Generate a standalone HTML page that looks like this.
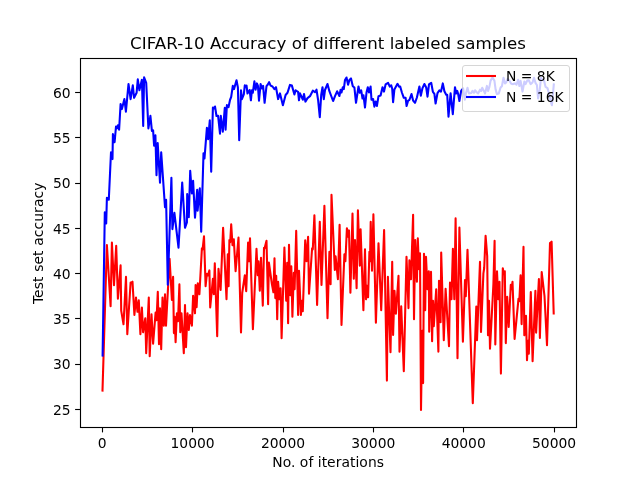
<!DOCTYPE html>
<html><head><meta charset="utf-8"><title>CIFAR-10 Accuracy of different labeled samples</title>
<style>html,body{margin:0;padding:0;background:#fff;width:640px;height:480px;overflow:hidden}</style></head>
<body>
<svg width="640" height="480" viewBox="0 0 640 480" style="display:block;position:absolute;left:0;top:0">
<rect width="640" height="480" fill="#fff"/>
<clipPath id="c"><rect x="80" y="57.6" width="496" height="369.6"/></clipPath>
<g clip-path="url(#c)">
<polyline points="102.5,390.6 106.9,245.1 110.6,306.2 111.9,242.6 114.0,285.3 116.2,245.9 117.9,298.7 120.6,265.4 121.2,310.6 123.5,324.3 126.0,276.9 127.3,334.3 130.6,282.6 131.5,282.8 132.5,281.7 134.4,314.9 136.0,297.6 137.5,311.8 138.8,300.4 140.4,334.3 141.9,307.6 143.1,332.3 145.3,318.2 146.2,353.1 148.8,297.6 149.7,356.2 151.5,314.4 153.1,343.7 155.6,312.6 156.5,320.3 157.8,291.9 159.0,344.3 160.0,308.2 161.2,349.1 162.5,297.6 163.8,325.6 165.0,294.4 166.0,325.6 169.6,258.8 171.9,299.9 173.1,276.9 173.9,333.1 174.7,316.7 175.6,342.1 176.9,313.2 178.0,321.3 179.4,284.4 180.3,332.3 181.5,313.2 183.8,353.1 185.0,305.1 186.0,347.3 187.5,313.2 188.8,329.9 190.0,315.1 191.9,325.6 193.1,295.7 195.0,313.3 195.6,285.1 196.6,307.3 197.8,283.2 199.4,294.3 201.9,248.2 202.6,249.3 204.0,236.3 205.6,286.2 206.9,273.8 208.0,275.3 209.4,270.4 210.2,307.4 212.9,278.8 213.8,294.3 214.8,263.2 217.2,336.2 218.5,268.8 220.6,289.9 223.1,227.9 226.5,299.1 227.8,254.4 228.6,286.2 229.4,240.1 230.2,242.3 231.2,224.4 232.5,245.3 233.8,239.2 235.6,271.2 238.5,237.6 241.0,332.4 242.2,293.0 244.8,275.4 246.2,291.2 248.1,242.6 249.1,261.3 250.0,238.2 252.9,329.3 256.5,248.8 257.7,275.3 258.5,261.3 259.8,290.6 261.0,257.9 262.8,305.6 264.0,247.9 264.6,248.3 266.5,240.7 268.1,304.3 268.9,262.6 271.9,284.0 273.4,292.3 274.5,258.2 275.3,298.1 276.2,275.7 277.2,319.3 278.1,281.9 279.5,299.3 280.6,288.2 281.6,338.3 284.4,247.6 286.2,300.6 287.2,262.7 288.1,323.3 289.0,244.7 290.3,295.3 291.3,266.3 292.4,316.8 293.8,272.7 294.6,289.3 296.2,230.9 298.1,314.9 299.0,270.7 300.9,314.9 301.8,300.7 302.8,311.2 305.2,240.4 306.5,261.3 308.1,236.9 309.0,293.7 312.1,248.2 312.8,249.3 314.4,215.4 317.1,304.9 319.8,221.7 321.5,284.9 324.4,205.7 327.5,318.1 329.4,251.9 330.6,284.3 331.5,194.7 334.8,269.9 335.6,256.3 337.9,279.1 339.6,224.7 341.5,324.9 344.4,254.4 345.4,261.3 346.9,228.2 347.8,236.8 349.0,230.4 350.4,292.8 352.5,213.6 353.8,278.7 355.0,240.1 356.6,288.3 357.9,210.4 359.8,265.6 360.6,229.2 363.4,310.3 365.0,249.2 366.0,299.3 367.0,285.7 368.1,297.3 369.4,251.7 370.0,261.3 370.7,221.9 372.0,270.6 373.4,214.4 375.9,322.8 378.5,243.2 381.2,310.3 384.1,230.1 386.9,380.6 387.9,276.9 390.5,352.3 392.2,261.7 393.1,334.9 394.5,290.7 395.9,313.7 398.5,275.7 399.5,351.8 401.2,306.3 403.8,371.2 406.5,256.7 408.5,308.1 409.4,260.4 411.0,279.3 413.1,214.7 414.0,319.3 415.2,240.1 416.9,281.8 417.8,238.4 419.0,269.3 420.0,253.2 421.0,409.9 422.2,330.7 423.1,383.1 424.0,253.8 425.2,310.3 426.0,256.9 427.5,289.3 428.8,271.3 429.2,331.8 431.0,271.9 432.1,341.2 433.0,300.7 433.8,326.3 436.2,289.4 438.4,351.6 439.0,280.7 440.6,322.3 441.2,252.6 443.8,340.3 445.6,288.7 449.0,346.2 450.0,282.6 451.5,299.3 452.9,248.8 454.3,299.3 455.6,218.4 457.5,358.3 459.4,227.6 462.9,341.8 465.0,280.1 465.8,296.2 467.5,249.7 472.8,403.3 476.3,306.5 477.0,340.3 480.0,261.9 481.0,331.9 483.4,273.4 484.2,268.0 485.6,235.9 487.2,256.2 488.0,335.3 489.0,300.7 490.0,348.8 492.6,300.0 493.4,284.0 494.6,240.7 495.3,344.5 497.0,271.4 498.3,299.3 499.5,281.9 500.9,373.6 502.8,268.2 503.8,274.3 504.8,271.3 505.8,343.1 507.2,296.7 508.7,327.0 510.8,284.7 511.6,289.3 512.5,281.9 514.6,338.9 518.5,298.7 519.3,301.3 520.6,275.2 521.6,324.1 523.5,246.9 524.3,335.3 526.0,315.7 527.0,360.3 528.0,340.7 528.8,353.7 530.8,292.1 532.6,361.3 535.4,290.7 536.1,332.6 538.9,279.1 539.9,337.9 541.7,272.0 544.5,296.0 547.0,345.3 550.0,243.0 551.6,241.7 553.7,313.5" fill="none" stroke="#ff0000" stroke-width="2.08" stroke-linejoin="round" stroke-linecap="square"/>
<polyline points="102.6,355.6 104.8,212.2 106.2,223.4 106.9,197.8 108.8,199.7 111.0,152.2 112.5,159.1 112.9,134.1 114.6,142.2 116.0,126.5 116.9,128.4 117.9,125.3 119.1,129.7 120.6,104.0 121.9,109.1 124.4,99.0 125.9,111.6 128.5,84.0 130.6,99.1 132.8,85.3 134.1,97.8 136.6,92.8 137.8,79.3 139.4,90.3 141.9,79.7 143.2,126.0 144.1,77.3 146.2,82.8 148.4,128.4 150.4,115.9 151.9,130.9 153.1,130.3 154.1,145.7 155.4,135.3 156.5,175.3 157.7,143.1 160.0,182.7 161.2,152.3 165.0,207.2 166.1,199.7 167.8,284.7 171.4,177.8 172.4,229.1 174.4,212.8 178.5,247.7 182.2,182.6 185.0,227.8 186.9,222.5 187.2,194.1 188.8,217.2 190.2,170.9 191.9,193.4 193.1,180.9 195.0,217.7 197.2,189.7 197.6,210.7 199.8,188.3 201.2,231.6 203.5,153.3 204.5,158.4 206.9,127.8 208.1,139.1 209.8,120.3 211.2,171.6 212.9,107.5 214.0,108.5 215.0,106.5 216.5,116.0 218.1,115.9 220.0,133.7 220.8,115.9 222.8,131.6 224.8,107.8 225.6,129.7 226.9,105.0 228.5,107.2 230.0,100.0 231.2,96.9 232.8,85.9 234.0,89.1 236.5,80.3 237.9,87.5 239.2,140.3 241.0,90.3 241.9,99.1 243.8,94.4 244.8,85.3 245.6,86.6 246.5,85.5 247.5,93.5 249.6,90.0 250.9,100.3 251.9,90.3 252.8,92.8 254.4,81.3 255.6,89.7 256.9,83.4 257.9,85.6 259.0,100.7 260.6,84.0 261.9,88.5 263.1,85.9 264.6,102.8 266.5,86.2 267.5,85.0 269.1,82.2 270.6,85.6 272.5,86.5 274.4,89.1 276.0,87.2 278.1,99.1 280.0,93.4 282.9,105.3 285.6,95.0 287.5,92.8 290.0,84.9 291.9,85.6 294.4,94.5 295.6,90.3 296.9,91.2 298.1,91.9 299.0,100.3 300.0,93.4 302.8,99.7 304.0,94.0 305.4,101.6 307.5,98.1 310.0,96.2 312.8,90.7 315.0,92.2 316.5,89.7 318.1,100.0 319.8,117.2 321.2,95.0 322.5,87.2 323.8,99.1 325.0,90.0 327.5,84.0 329.4,91.2 333.1,101.0 335.0,96.2 337.1,91.3 339.4,96.0 340.6,89.7 341.5,92.5 342.8,87.2 343.8,89.1 345.0,80.0 346.5,77.5 348.1,84.7 349.4,80.0 351.0,78.4 352.8,86.2 354.4,87.5 356.0,102.8 358.5,86.5 359.8,92.8 361.2,90.3 362.5,98.5 363.5,95.3 365.0,107.5 366.5,92.5 367.8,87.2 369.0,92.5 370.6,86.5 371.5,99.7 373.1,99.0 374.4,106.6 375.6,101.5 376.9,106.0 378.5,96.2 380.6,95.6 382.5,87.2 384.0,91.6 385.6,84.4 388.1,82.8 389.8,86.6 391.2,85.3 392.2,88.8 393.1,102.2 394.4,89.4 397.5,83.8 399.0,86.6 400.2,86.5 401.9,92.5 403.8,97.8 405.6,97.8 406.6,106.0 408.1,100.6 409.4,100.0 411.5,94.0 413.1,100.6 415.0,102.8 416.9,97.5 419.4,86.5 420.8,95.7 422.5,88.1 424.4,84.0 426.2,87.5 427.5,96.6 429.0,84.4 431.2,82.8 432.9,91.9 434.4,93.8 435.6,103.5 437.5,93.1 439.4,90.3 441.0,91.6 442.8,83.4 444.4,91.2 446.2,94.7 447.2,94.7 448.5,116.6 450.6,93.4 452.8,114.1 455.0,87.2 456.2,93.5 457.2,90.9 458.1,93.8 459.4,101.0 461.2,90.6 463.1,88.4 464.8,99.7 466.0,93.1 467.5,87.8 469.0,93.5 471.2,93.1 472.5,90.9 474.0,92.8 475.0,90.3 476.9,92.5 478.1,93.5 480.0,89.7 481.2,91.0 482.2,87.8 484.0,91.2 485.0,93.5 486.9,85.9 488.1,91.0 489.4,86.9 490.6,80.6 492.5,77.5 494.4,80.6 495.6,89.4 496.9,94.1 498.8,93.4 500.6,87.5 501.9,86.2 503.5,77.8 505.0,83.5 506.2,82.5 507.5,79.0 509.4,80.6 511.2,83.8 513.1,84.1 515.0,83.4 516.5,84.7 518.1,79.7 519.4,86.0 520.6,80.9 522.5,91.6 524.4,81.5 525.6,84.1 527.2,80.6 528.8,80.3 530.6,84.1 532.5,82.5 534.0,77.8 535.6,83.1 536.9,85.0 538.1,98.5 539.8,89.4 541.0,77.8 542.5,80.0 544.0,80.6 545.6,86.9 547.5,88.1 549.4,95.0 550.6,101.2 551.9,105.3 553.8,84.4" fill="none" stroke="#0000ff" stroke-width="2.08" stroke-linejoin="round" stroke-linecap="square"/>
</g>
<line x1="102.5" x2="102.5" y1="427.5" y2="432.4" stroke="#000" stroke-width="1.11"/>
<line x1="192.5" x2="192.5" y1="427.5" y2="432.4" stroke="#000" stroke-width="1.11"/>
<line x1="283.5" x2="283.5" y1="427.5" y2="432.4" stroke="#000" stroke-width="1.11"/>
<line x1="373.5" x2="373.5" y1="427.5" y2="432.4" stroke="#000" stroke-width="1.11"/>
<line x1="463.5" x2="463.5" y1="427.5" y2="432.4" stroke="#000" stroke-width="1.11"/>
<line x1="554.5" x2="554.5" y1="427.5" y2="432.4" stroke="#000" stroke-width="1.11"/>
<line x1="75.1" x2="80.5" y1="409.5" y2="409.5" stroke="#000" stroke-width="1.11"/>
<line x1="75.1" x2="80.5" y1="364.5" y2="364.5" stroke="#000" stroke-width="1.11"/>
<line x1="75.1" x2="80.5" y1="318.5" y2="318.5" stroke="#000" stroke-width="1.11"/>
<line x1="75.1" x2="80.5" y1="273.5" y2="273.5" stroke="#000" stroke-width="1.11"/>
<line x1="75.1" x2="80.5" y1="228.5" y2="228.5" stroke="#000" stroke-width="1.11"/>
<line x1="75.1" x2="80.5" y1="183.5" y2="183.5" stroke="#000" stroke-width="1.11"/>
<line x1="75.1" x2="80.5" y1="137.5" y2="137.5" stroke="#000" stroke-width="1.11"/>
<line x1="75.1" x2="80.5" y1="92.5" y2="92.5" stroke="#000" stroke-width="1.11"/>
<rect x="80.5" y="58.5" width="496" height="369" fill="none" stroke="#000" stroke-width="1.11"/>
<rect x="462.5" y="65.5" width="107" height="46" rx="2.5" ry="2.5" fill="#fff" fill-opacity="0.8" stroke="#ccc" stroke-opacity="0.8" stroke-width="1"/>
<line x1="466" x2="496" y1="76" y2="76" stroke="#ff0000" stroke-width="2.08"/>
<line x1="466" x2="496" y1="97" y2="97" stroke="#0000ff" stroke-width="2.08"/>
<g font-family="'DejaVu Sans', 'Liberation Sans', sans-serif" font-size="13.89px" fill="#000">
<text x="506" y="80.9">N = 8K</text>
<text x="506" y="101.8">N = 16K</text>
<text x="102.2" y="447.8" text-anchor="middle">0</text>
<text x="192.6" y="447.8" text-anchor="middle">10000</text>
<text x="283.0" y="447.8" text-anchor="middle">20000</text>
<text x="373.3" y="447.8" text-anchor="middle">30000</text>
<text x="463.7" y="447.8" text-anchor="middle">40000</text>
<text x="554.1" y="447.8" text-anchor="middle">50000</text>
<text x="70.6" y="414.7" text-anchor="end">25</text>
<text x="70.6" y="369.4" text-anchor="end">30</text>
<text x="70.6" y="324.1" text-anchor="end">35</text>
<text x="70.6" y="278.8" text-anchor="end">40</text>
<text x="70.6" y="233.6" text-anchor="end">45</text>
<text x="70.6" y="188.3" text-anchor="end">50</text>
<text x="70.6" y="143.0" text-anchor="end">55</text>
<text x="70.6" y="97.7" text-anchor="end">60</text>
<text x="328.1" y="466.6" text-anchor="middle" textLength="111.7" lengthAdjust="spacing">No. of iterations</text>
<text transform="translate(42.5,243.3) rotate(-90)" text-anchor="middle" textLength="121.6" lengthAdjust="spacing">Test set accuracy</text>
<text x="328.05" y="49" text-anchor="middle" font-size="16.67px" textLength="395.9" lengthAdjust="spacing">CIFAR-10 Accuracy of different labeled samples</text>
</g>
</svg>
</body></html>
